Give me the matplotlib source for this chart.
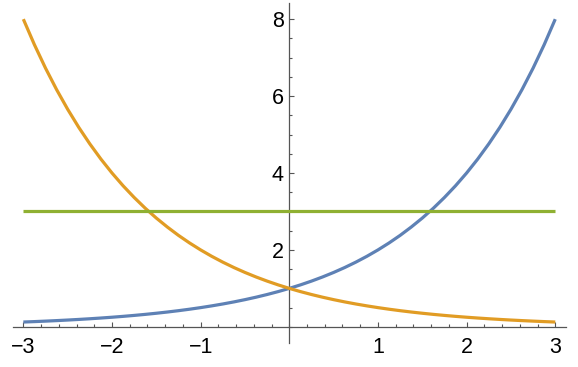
import matplotlib
matplotlib.use("Agg")
import matplotlib.pyplot as plt
from matplotlib.ticker import MultipleLocator

x_vals = [-3.0, -2.875, -2.75, -2.625, -2.5, -2.375, -2.25, -2.125, -2.0, -1.875, -1.75, -1.625,
          -1.5, -1.375, -1.25, -1.125, -1.0, -0.875, -0.75, -0.625, -0.5, -0.375, -0.25, -0.125,
          0.0, 0.125, 0.25, 0.375, 0.5, 0.625, 0.75, 0.875, 1.0, 1.125, 1.25, 1.375,
          1.5, 1.625, 1.75, 1.875, 2.0, 2.125, 2.25, 2.375, 2.5, 2.625, 2.75, 2.875, 3.0]
blue_vals = [0.125, 0.1363, 0.1487, 0.1621, 0.1768, 0.1928, 0.2102, 0.2293, 0.25, 0.2726, 0.2973, 0.3242,
             0.3536, 0.3856, 0.4204, 0.4585, 0.5, 0.5453, 0.5946, 0.6484, 0.7071, 0.7711, 0.8409, 0.9170,
             1.0, 1.0905, 1.1892, 1.2968, 1.4142, 1.5422, 1.6818, 1.8340, 2.0, 2.181, 2.378, 2.594,
             2.828, 3.084, 3.364, 3.668, 4.0, 4.362, 4.757, 5.187, 5.657, 6.169, 6.727, 7.336, 8.0]
orange_vals = [8.0, 7.336, 6.727, 6.169, 5.657, 5.187, 4.757, 4.362, 4.0, 3.668, 3.364, 3.084,
               2.828, 2.594, 2.378, 2.181, 2.0, 1.8340, 1.6818, 1.5422, 1.4142, 1.2968, 1.1892, 1.0905,
               1.0, 0.9170, 0.8409, 0.7711, 0.7071, 0.6484, 0.5946, 0.5453, 0.5, 0.4585, 0.4204, 0.3856,
               0.3536, 0.3242, 0.2973, 0.2726, 0.25, 0.2293, 0.2102, 0.1928, 0.1768, 0.1621, 0.1487, 0.1363, 0.125]
green_vals = [3.0] * len(x_vals)

x_ticks = [-3, -2, -1, 1, 2, 3]
y_ticks = [2, 4, 6, 8]

plt.rcParams['font.family'] = ['Liberation Sans', 'DejaVu Sans']

W, H = 578, 367
fig = plt.figure(figsize=(W / 100, H / 100), dpi=100)
ax = fig.add_axes([12.7 / W, (H - 343) / H, 553.2 / W, 340 / H])

lw = 2.3
ax.plot(x_vals, blue_vals, color='#5E81B5', lw=lw, zorder=3, solid_capstyle='butt', solid_joinstyle='round')
ax.plot(x_vals, orange_vals, color='#E19C24', lw=lw, zorder=3, solid_capstyle='butt', solid_joinstyle='round')
ax.plot(x_vals, green_vals, color='#8FB032', lw=lw, zorder=3, solid_capstyle='butt')

ax.set_xlim(-3.12, 3.12)
ax.set_ylim(-0.42, 8.42)

for s in ['top', 'right']:
    ax.spines[s].set_visible(False)
ax.spines['left'].set_position(('data', 0))
ax.spines['bottom'].set_position(('data', 0))
for s in ['left', 'bottom']:
    ax.spines[s].set_color('#555555')
    ax.spines[s].set_linewidth(0.9)
    ax.spines[s].set_zorder(1)

ax.set_xticks(x_ticks)
ax.set_yticks(y_ticks)
ax.set_xticklabels(['\u2212' + str(-t) if t < 0 else str(t) for t in x_ticks])
ax.xaxis.set_minor_locator(MultipleLocator(0.2))
ax.yaxis.set_minor_locator(MultipleLocator(0.5))
ax.tick_params(which='both', direction='in', color='#555555', width=0.8, labelsize=15.5, labelcolor='black')
ax.tick_params(which='major', length=3.5)
ax.tick_params(which='minor', length=2.2)
ax.tick_params(axis='x', which='major', pad=7)
ax.tick_params(axis='y', which='major', pad=4)
ax.patch.set_alpha(0)

fig.savefig('out.png', dpi=100)
